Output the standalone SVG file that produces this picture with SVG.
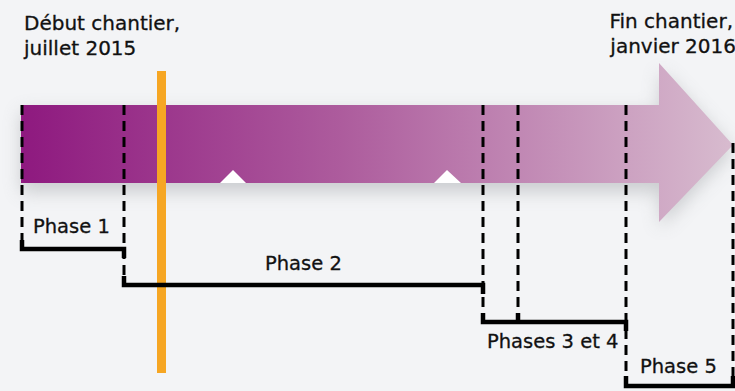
<svg xmlns="http://www.w3.org/2000/svg" width="735" height="391" viewBox="0 0 735 391">
<defs>
<linearGradient id="g" x1="21" y1="0" x2="735" y2="0" gradientUnits="userSpaceOnUse">
<stop offset="0" stop-color="#8e197f"/>
<stop offset="0.45" stop-color="#ad5c9d"/>
<stop offset="1" stop-color="#d8bccf"/>
</linearGradient>
<filter id="sh" x="-10%" y="-40%" width="120%" height="180%">
<feGaussianBlur stdDeviation="9"/>
</filter>
<style>
text{font-family:"DejaVu Sans","Noto Sans",sans-serif;fill:#111;stroke:#111;stroke-width:0.3;}
.t{font-size:20px;}
.p{font-size:19.5px;}
.d{fill:none;stroke:#000;stroke-width:3;stroke-dasharray:10 6;}
.s{fill:none;stroke:#000;stroke-width:4.5;stroke-linejoin:miter;}
</style>
</defs>
<rect width="735" height="391" fill="#f3f4f6"/>
<g id="arrow">
<path d="M21,112 H660 V70 L733,150 L660,228 V192 H21 Z" fill="#9a9ca0" opacity="0.45" filter="url(#sh)"/>
<path d="M21,105 H659 V63 L733,145 L659,222 V183 H21 Z" fill="url(#g)"/>
<polygon points="220,183 233,170 246,183" fill="#fff"/>
<polygon points="434,183 447,170 461,183" fill="#fff"/>
</g>
<g id="today-marker">
<rect x="157" y="71" width="9" height="302" fill="#f6a623"/>
</g>
<g id="connectors">
<line class="d" x1="22" y1="105" x2="22" y2="240"/>
<line class="d" x1="124" y1="105" x2="124" y2="276"/>
<line class="d" x1="483" y1="105" x2="483" y2="313"/>
<line class="d" x1="518" y1="105" x2="518" y2="313"/>
<line class="d" x1="626" y1="105" x2="626" y2="376"/>
<line class="d" x1="733" y1="143" x2="733" y2="376"/>
<path class="s" d="M22,240 V249 H124 V258"/>
<path class="s" d="M124,276 V285 H483 V294"/>
<path class="s" d="M483,313 V322 H626 V331"/>
<line class="s" x1="518" y1="313" x2="518" y2="322"/>
<path class="s" d="M626,376 V386 H733 V376"/>
</g>
<g id="start-label">
<text class="t" x="24" y="30">Début chantier,</text>
<text class="t" x="24" y="55">juillet 2015</text>
</g>
<g id="end-label">
<text class="t" x="733" y="28" text-anchor="end">Fin chantier,</text>
<text class="t" x="736" y="53" text-anchor="end">janvier 2016</text>
</g>
<g id="phase1"><text class="p" x="33" y="233">Phase 1</text></g>
<g id="phase2"><text class="p" x="265" y="270">Phase 2</text></g>
<g id="phase34"><text class="p" x="487" y="348">Phases 3 et 4</text></g>
<g id="phase5"><text class="p" x="640" y="373">Phase 5</text></g>
</svg>
